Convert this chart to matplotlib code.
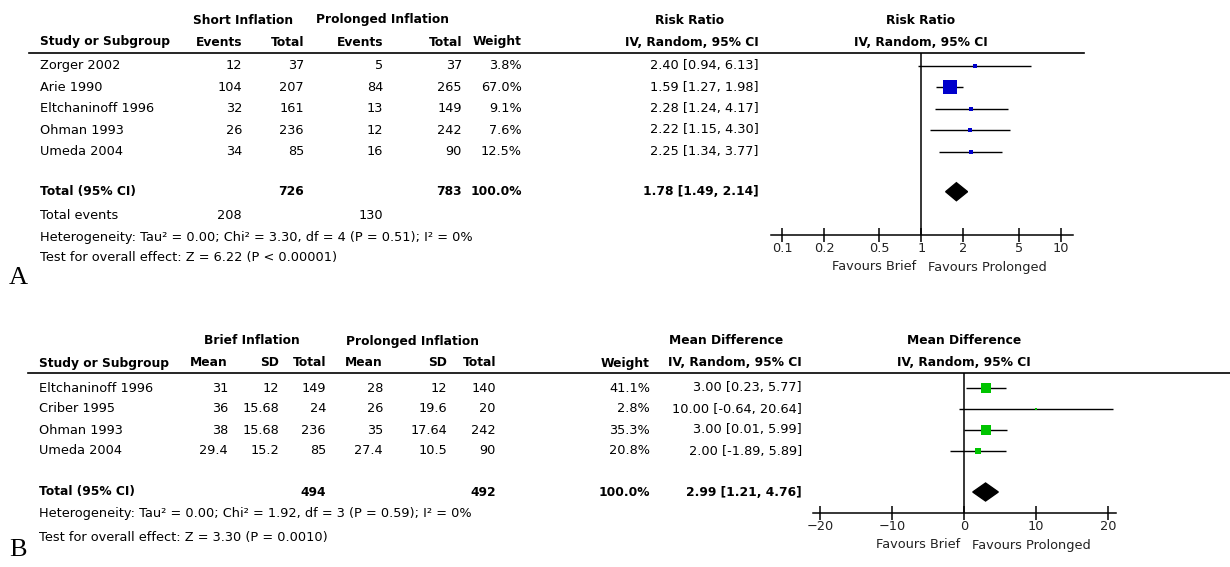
import numpy as np
import matplotlib
matplotlib.use('Agg')
import matplotlib.pyplot as plt
from matplotlib.patches import Polygon
from matplotlib.ticker import NullLocator

plt.rcParams['font.family'] = 'DejaVu Sans'

# ---- panel A: risk ratio
a_studies = ["Zorger 2002", "Arie 1990", "Eltchaninoff 1996", "Ohman 1993", "Umeda 2004"]
a_short_events = [12, 104, 32, 26, 34]
a_short_total = [37, 207, 161, 236, 85]
a_prol_events = [5, 84, 13, 12, 16]
a_prol_total = [37, 265, 149, 242, 90]
a_weight = [3.8, 67.0, 9.1, 7.6, 12.5]
a_rr = [2.40, 1.59, 2.28, 2.22, 2.25]
a_lo = [0.94, 1.27, 1.24, 1.15, 1.34]
a_hi = [6.13, 1.98, 4.17, 4.30, 3.77]
a_totals = [726, 783]
a_total_events = [208, 130]
a_pooled = [1.78, 1.49, 2.14]
a_ticks = [0.1, 0.2, 0.5, 1, 2, 5, 10]
a_tick_labels = ["0.1", "0.2", "0.5", "1", "2", "5", "10"]
a_het = "Heterogeneity: Tau\u00b2 = 0.00; Chi\u00b2 = 3.30, df = 4 (P = 0.51); I\u00b2 = 0%"
a_test = "Test for overall effect: Z = 6.22 (P < 0.00001)"

# ---- panel B: mean difference
b_studies = ["Eltchaninoff 1996", "Criber 1995", "Ohman 1993", "Umeda 2004"]
b_brief_mean = [31, 36, 38, 29.4]
b_brief_sd = [12, 15.68, 15.68, 15.2]
b_brief_total = [149, 24, 236, 85]
b_prol_mean = [28, 26, 35, 27.4]
b_prol_sd = [12, 19.6, 17.64, 10.5]
b_prol_total = [140, 20, 242, 90]
b_weight = [41.1, 2.8, 35.3, 20.8]
b_md = [3.00, 10.00, 3.00, 2.00]
b_lo = [0.23, -0.64, 0.01, -1.89]
b_hi = [5.77, 20.64, 5.99, 5.89]
b_totals = [494, 492]
b_pooled = [2.99, 1.21, 4.76]
b_ticks = [-20, -10, 0, 10, 20]
b_tick_labels = ["\u221220", "\u221210", "0", "10", "20"]
b_het = "Heterogeneity: Tau\u00b2 = 0.00; Chi\u00b2 = 1.92, df = 3 (P = 0.59); I\u00b2 = 0%"
b_test = "Test for overall effect: Z = 3.30 (P = 0.0010)"

BLUE = '#0000cc'
GREEN = '#00c400'
FS = 9.3
FS_BOLD = 8.8

W, H = 1230, 567
fig = plt.figure(figsize=(W / 100, H / 100), dpi=100)
bg = fig.add_axes([0, 0, 1, 1])
bg.set_xlim(0, W)
bg.set_ylim(H, 0)
bg.axis('off')


def txt(x, y, s, ha='left', bold=False, **kw):
    bg.text(x, y, s, ha=ha, va='center', fontsize=FS_BOLD if bold else FS,
            fontweight='bold' if bold else 'normal', **kw)


def forest_axes(x0, x1, y0, y1):
    ax = fig.add_axes([x0 / W, 1 - y1 / H, (x1 - x0) / W, (y1 - y0) / H])
    ax.set_ylim(y1, y0)
    ax.patch.set_alpha(0)
    for s in ['top', 'left', 'right']:
        ax.spines[s].set_visible(False)
    ax.spines['bottom'].set_linewidth(1.1)
    ax.set_yticks([])
    ax.tick_params(axis='x', direction='inout', length=10, width=1.1,
                   labelsize=FS, pad=0, labelcolor='#222222')
    return ax


def fmt_ci(v, lo, hi):
    return f"{v:.2f} [{lo:.2f}, {hi:.2f}]"


def box_size(w, k, min_px=2.6):
    # marker side in points, grows a bit slower than sqrt(weight)
    return max(k * w ** 0.7, min_px) * 0.72


# ================= panel A =================
rows_a = [65.7, 87.3, 108.7, 130, 151.7]
tot_a = 191.7
cols_a = [242, 304, 383, 462, 522, 759]

txt(243, 20, "Short Inflation", ha='center', bold=True)
txt(383, 20, "Prolonged Inflation", ha='center', bold=True)
txt(690, 20, "Risk Ratio", ha='center', bold=True)
txt(921, 20, "Risk Ratio", ha='center', bold=True)
txt(40, 42, "Study or Subgroup", bold=True)
for x, s in zip(cols_a, ["Events", "Total", "Events", "Total", "Weight",
                         "IV, Random, 95% CI"]):
    txt(x, 42, s, ha='right', bold=True)
txt(921, 42, "IV, Random, 95% CI", ha='center', bold=True)
bg.plot([29, 1084], [53, 53], color='black', lw=1.2)

for i, y in enumerate(rows_a):
    txt(40, y, a_studies[i])
    vals = [str(a_short_events[i]), str(a_short_total[i]), str(a_prol_events[i]),
            str(a_prol_total[i]), f"{a_weight[i]:.1f}%",
            fmt_ci(a_rr[i], a_lo[i], a_hi[i])]
    for x, s in zip(cols_a, vals):
        txt(x, y, s, ha='right')

txt(40, tot_a, "Total (95% CI)", bold=True)
txt(cols_a[1], tot_a, str(a_totals[0]), ha='right', bold=True)
txt(cols_a[3], tot_a, str(a_totals[1]), ha='right', bold=True)
txt(cols_a[4], tot_a, f"{sum(a_weight):.1f}%", ha='right', bold=True)
txt(cols_a[5], tot_a, fmt_ci(*a_pooled), ha='right', bold=True)
txt(40, 215.7, "Total events")
txt(cols_a[0], 215.7, str(a_total_events[0]), ha='right')
txt(cols_a[2], 215.7, str(a_total_events[1]), ha='right')
txt(40, 237, a_het)
txt(40, 258, a_test)
bg.text(9, 278, "A", ha='left', va='center', fontsize=19, family='Liberation Serif')

axa = forest_axes(771, 1073, 53, 235)
axa.set_xscale('log')
axa.set_xlim(0.0834, 12.2)
axa.xaxis.set_minor_locator(NullLocator())
axa.set_xticks(a_ticks)
axa.set_xticklabels(a_tick_labels)
axa.axvline(1, color='black', lw=1.1)
axa.hlines(rows_a, a_lo, a_hi, color='black', lw=1)
for i, y in enumerate(rows_a):
    axa.plot(a_rr[i], y, marker='s', ms=box_size(a_weight[i], 0.78, 3.2), color=BLUE, mew=0)
est, lo, hi = a_pooled
axa.add_patch(Polygon([(lo, tot_a), (est, tot_a - 9), (hi, tot_a), (est, tot_a + 9)],
                      closed=True, color='black'))
txt(916, 267, "Favours Brief", ha='right', color='#222222')
txt(928, 267, "Favours Prolonged", ha='left', color='#222222')

# ================= panel B =================
rows_b = [388, 409, 430, 451]
tot_b = 492
cols_b = [228, 279, 326, 383, 447, 496, 650, 802]

txt(252, 341, "Brief Inflation", ha='center', bold=True)
txt(412, 341, "Prolonged Inflation", ha='center', bold=True)
txt(726, 341, "Mean Difference", ha='center', bold=True)
txt(964, 341, "Mean Difference", ha='center', bold=True)
txt(39, 363, "Study or Subgroup", bold=True)
for x, s in zip(cols_b, ["Mean", "SD", "Total", "Mean", "SD", "Total", "Weight",
                         "IV, Random, 95% CI"]):
    txt(x, 363, s, ha='right', bold=True)
txt(964, 363, "IV, Random, 95% CI", ha='center', bold=True)
bg.plot([28, 1230], [373, 373], color='black', lw=1.2)

for i, y in enumerate(rows_b):
    txt(39, y, b_studies[i])
    vals = [f"{b_brief_mean[i]:g}", f"{b_brief_sd[i]:g}", str(b_brief_total[i]),
            f"{b_prol_mean[i]:g}", f"{b_prol_sd[i]:g}", str(b_prol_total[i]),
            f"{b_weight[i]:.1f}%", fmt_ci(b_md[i], b_lo[i], b_hi[i])]
    for x, s in zip(cols_b, vals):
        txt(x, y, s, ha='right')

txt(39, tot_b, "Total (95% CI)", bold=True)
txt(cols_b[2], tot_b, str(b_totals[0]), ha='right', bold=True)
txt(cols_b[5], tot_b, str(b_totals[1]), ha='right', bold=True)
txt(cols_b[6], tot_b, f"{sum(b_weight):.1f}%", ha='right', bold=True)
txt(cols_b[7], tot_b, fmt_ci(*b_pooled), ha='right', bold=True)
txt(39, 514, b_het)
txt(39, 537, b_test)
bg.text(9, 550, "B", ha='left', va='center', fontsize=19, family='Liberation Serif')

axb = forest_axes(813, 1116, 373, 513)
axb.set_xlim(-20.97, 21.1)
axb.set_xticks(b_ticks)
axb.set_xticklabels(b_tick_labels)
axb.axvline(0, color='black', lw=1.1)
axb.hlines(rows_b, b_lo, b_hi, color='black', lw=1)
for i, y in enumerate(rows_b):
    axb.plot(b_md[i], y, marker='s', ms=box_size(b_weight[i], 0.75, 2.4), color=GREEN, mew=0)
est, lo, hi = b_pooled
axb.add_patch(Polygon([(lo, tot_b), (est, tot_b - 9), (hi, tot_b), (est, tot_b + 9)],
                      closed=True, color='black'))
txt(960, 545, "Favours Brief", ha='right', color='#222222')
txt(972, 545, "Favours Prolonged", ha='left', color='#222222')

fig.savefig('out.png', dpi=100)
